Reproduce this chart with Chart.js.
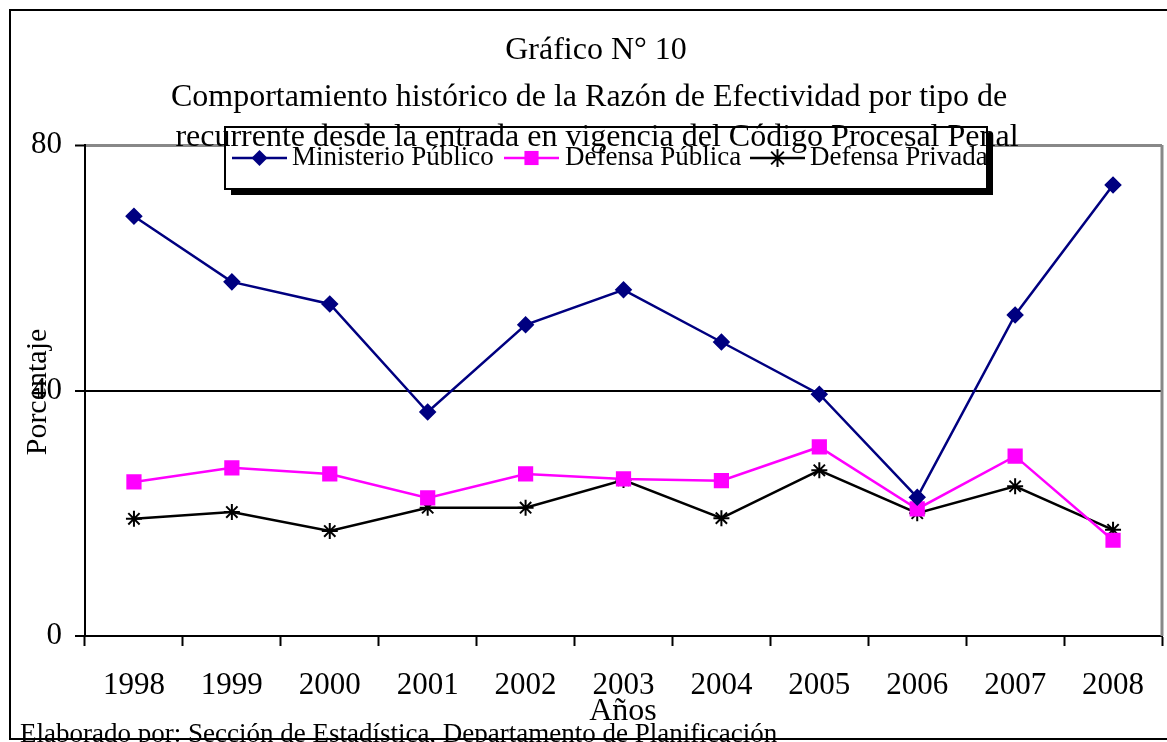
<!DOCTYPE html>
<html>
<head>
<meta charset="utf-8">
<script src="https://cdn.jsdelivr.net/npm/chart.js@4/dist/chart.umd.min.js"></script>
<style>
  html, body { margin: 0; padding: 0; background: #fff; }
  #wrap { width: 1167px; height: 742px; }
</style>
</head>
<body>
<div id="wrap"><canvas id="myChart" width="1167" height="742"></canvas></div>
<script>
//Data_
const years = ['1998', '1999', '2000', '2001', '2002', '2003', '2004', '2005', '2006', '2007', '2008'];
const ministerio = [68.4, 57.7, 54.1, 36.5, 50.7, 56.4, 47.9, 39.4, 22.6, 52.3, 73.5];
const defensaPublica = [25.1, 27.4, 26.4, 22.5, 26.4, 25.6, 25.3, 30.8, 20.7, 29.3, 15.6];
const defensaPrivada = [19.1, 20.2, 17.1, 20.9, 20.9, 25.4, 19.2, 27.0, 20.0, 24.4, 17.3];
const yTicks = [0, 40, 80];

const titleLines = [
    'Gráfico N° 10',
    'Comportamiento histórico de la Razón de Efectividad por tipo de',
    'recurrente desde la entrada en vigencia del Código Procesal Penal'
];
const footer = 'Elaborado por: Sección de Estadística, Departamento de Planificación';
const serif = '"Liberation Serif", "DejaVu Serif", serif';

//Markers_
function marker(ctx, style, x, y, r, color) {
    ctx.save();
    ctx.fillStyle = color;
    ctx.strokeStyle = color;
    ctx.lineWidth = 2;
    ctx.beginPath();
    if (style === 'rectRot') {
        ctx.moveTo(x, y - r); ctx.lineTo(x + r, y); ctx.lineTo(x, y + r); ctx.lineTo(x - r, y);
        ctx.closePath(); ctx.fill();
    } else if (style === 'rect') {
        const s = r * Math.SQRT1_2;
        ctx.fillRect(x - s, y - s, 2 * s, 2 * s);
    } else {
        const d = r * Math.SQRT1_2;
        ctx.moveTo(x - d, y - d); ctx.lineTo(x + d, y + d);
        ctx.moveTo(x + d, y - d); ctx.lineTo(x - d, y + d);
        ctx.moveTo(x, y - r); ctx.lineTo(x, y + r);
        ctx.stroke();
    }
    ctx.restore();
}

//Plugin_
const decor = {
    id: 'decor',
    beforeDraw(chart) {
        const ctx = chart.ctx;
        ctx.save();
        ctx.fillStyle = '#fff';
        ctx.fillRect(0, 0, chart.width, chart.height);
        ctx.strokeStyle = '#000';
        ctx.lineWidth = 2;
        ctx.strokeRect(10, 10, chart.width + 10, chart.height - 13);
        ctx.restore();
    },
    afterDraw(chart) {
        const ctx = chart.ctx;
        const a = chart.chartArea;
        ctx.save();
        // gray right border
        ctx.strokeStyle = '#888';
        ctx.lineWidth = 3;
        ctx.beginPath();
        ctx.moveTo(a.right, a.top);
        ctx.lineTo(a.right, a.bottom);
        ctx.stroke();

        // legend box + shadow
        const bx = 225, by = 127, bw = 762, bh = 62;
        ctx.fillStyle = '#000';
        ctx.fillRect(bx + 6, by + 6, bw, bh);
        ctx.fillStyle = '#fff';
        ctx.fillRect(bx, by, bw, bh);
        ctx.strokeStyle = '#000';
        ctx.lineWidth = 2;
        ctx.strokeRect(bx, by, bw, bh);

        // title
        ctx.fillStyle = '#000';
        ctx.textAlign = 'center';
        ctx.textBaseline = 'alphabetic';
        ctx.font = '32px ' + serif;
        ctx.fillText(titleLines[0], 596, 59);
        ctx.fillText(titleLines[1], 589, 106);
        ctx.fillText(titleLines[2], 597, 146);

        // legend items
        ctx.font = '27px ' + serif;
        ctx.textAlign = 'left';
        ctx.textBaseline = 'middle';
        const items = [
            { ds: 0, x0: 232, x1: 287, tx: 292 },
            { ds: 1, x0: 504, x1: 559, tx: 565 },
            { ds: 2, x0: 750, x1: 805, tx: 810 }
        ];
        const ly = 158;
        items.forEach(it => {
            const d = chart.data.datasets[it.ds];
            ctx.strokeStyle = d.borderColor;
            ctx.lineWidth = 2.5;
            ctx.beginPath();
            ctx.moveTo(it.x0, ly);
            ctx.lineTo(it.x1, ly);
            ctx.stroke();
            marker(ctx, d.pointStyle, (it.x0 + it.x1) / 2, ly, d.pointRadius + 1, d.borderColor);
            ctx.fillStyle = '#000';
            ctx.fillText(d.label, it.tx, ly);
        });

        // axis titles
        ctx.font = '32px ' + serif;
        ctx.textAlign = 'center';
        ctx.fillText('Años', 623, 712);
        ctx.save();
        ctx.font = '30px ' + serif;
        ctx.translate(38, 392);
        ctx.rotate(-Math.PI / 2);
        ctx.fillText('Porcentaje', 0, 0);
        ctx.restore();

        // footer
        ctx.font = '27px ' + serif;
        ctx.textAlign = 'left';
        ctx.fillText(footer, 20, 735);
        ctx.restore();
    }
};

//Chart_
const config = {
    type: 'line',
    data: {
        labels: years,
        datasets: [
            {
                label: 'Ministerio Público',
                data: ministerio,
                borderColor: '#000080',
                backgroundColor: '#000080',
                borderWidth: 2.5,
                pointStyle: 'rectRot',
                pointRadius: 7,
                tension: 0
            },
            {
                label: 'Defensa Pública',
                data: defensaPublica,
                borderColor: '#ff00ff',
                backgroundColor: '#ff00ff',
                borderWidth: 2.5,
                pointStyle: 'rect',
                pointRadius: 9,
                tension: 0
            },
            {
                label: 'Defensa Privada',
                data: defensaPrivada,
                borderColor: '#000000',
                backgroundColor: '#000000',
                borderWidth: 2.5,
                pointStyle: 'star',
                pointRadius: 8,
                pointBorderWidth: 2,
                tension: 0
            }
        ]
    },
    options: {
        responsive: false,
        animation: false,
        layout: { autoPadding: false, padding: { top: 145, left: 0, right: 5, bottom: 0 } },
        plugins: {
            legend: { display: false },
            title: { display: false },
            tooltip: { enabled: false }
        },
        scales: {
            x: {
                offset: true,
                grid: {
                    offset: true,
                    drawOnChartArea: false,
                    drawTicks: true,
                    tickLength: 10,
                    tickColor: '#000',
                    tickWidth: 2
                },
                border: { display: true, color: '#000', width: 2 },
                ticks: {
                    color: '#000',
                    font: { family: serif, size: 31 },
                    padding: 21,
                    maxRotation: 0
                },
                afterFit(scale) {
                    scale.height = 106;
                    scale.paddingLeft = 0;
                    scale.paddingRight = 0;
                }
            },
            y: {
                min: 0,
                max: 80,
                afterBuildTicks(scale) { scale.ticks = yTicks.map(v => ({ value: v })); },
                grid: {
                    color: ctx => ctx.tick && ctx.tick.value === 80 ? '#888' : '#000',
                    lineWidth: ctx => ctx.tick && ctx.tick.value === 80 ? 3 : 2,
                    tickLength: 10,
                    tickColor: '#000',
                    tickWidth: 2
                },
                border: { display: true, color: '#000', width: 2 },
                ticks: {
                    color: '#000',
                    font: { family: serif, size: 31 },
                    padding: 13
                },
                afterFit(scale) {
                    scale.width = 85;
                    scale.paddingTop = 0;
                    scale.paddingBottom = 0;
                }
            }
        }
    },
    plugins: [decor]
};

const chart = new Chart(document.getElementById('myChart'), config);
</script>
</body>
</html>
